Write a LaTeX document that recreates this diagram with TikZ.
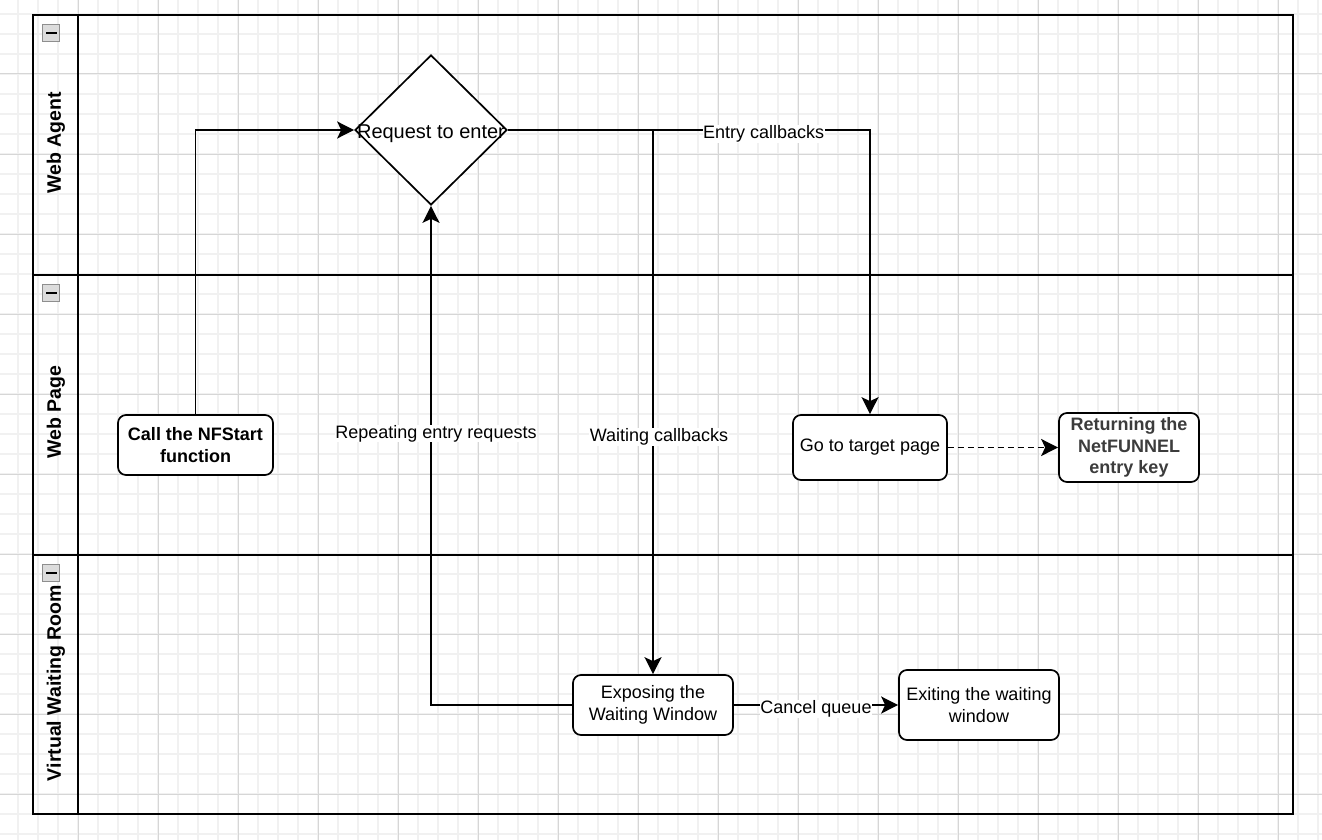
\documentclass[tikz,border=0pt]{standalone}
\usepackage{fontspec}
\setmainfont{Liberation Sans}
\usetikzlibrary{shapes.geometric,arrows.meta}
\definecolor{gminor}{HTML}{F1F1F1}
\definecolor{gmajor}{HTML}{D6D6D6}
\definecolor{txtgray}{HTML}{3C3C3C}
\definecolor{icongray}{HTML}{8E8E8E}
\definecolor{iconfill}{HTML}{DCDCDC}
\tikzset{
  minusicon/.pic={
    \draw[icongray, fill=iconfill, line width=1.5pt] (-8.5,-8.5) rectangle (8.5,8.5);
    \fill[black] (-5.5,-1.3) rectangle (5.5,1.3);
  }
}
\begin{document}
\begin{tikzpicture}[x=1pt,y=-1pt,
  box/.style={draw, line width=1.7pt, rounded corners=8pt, fill=white, align=center,
    inner sep=0pt, font=\fontsize{18}{22}\selectfont},
  decision/.style={draw, shape=diamond, line width=1.7pt, fill=white, inner sep=0pt,
    minimum width=152pt, minimum height=150pt},
  flow/.style={line width=1.7pt, -{Stealth[length=17pt,width=17pt,inset=4pt]}},
  elabel/.style={fill=white, inner sep=0.5pt, font=\fontsize{18}{22}\selectfont},
  lanetitle/.style={rotate=90, font=\bfseries\fontsize{19.5}{23}\selectfont},
  poolline/.style={line width=1.7pt},
]
\useasboundingbox (0,0) rectangle (1322,840);
\fill[white] (0,0) rectangle (1322,840);
% grid
\foreach \x in {18,38,...,1318} \draw[gminor, line width=1.5pt] (\x,0) -- (\x,840);
\foreach \y in {14,34,...,834} \draw[gminor, line width=1.5pt] (0,\y) -- (1322,\y);
\foreach \x in {78,158,...,1278} \draw[gmajor, line width=1pt] (\x,0) -- (\x,840);
\foreach \y in {74,154,...,794} \draw[gmajor, line width=1pt] (0,\y) -- (1322,\y);

% pool and lanes
\draw[poolline] (33,15) rectangle (1293,814);
\draw[poolline] (78,15) -- (78,814);
\draw[poolline] (33,275) -- (1293,275);
\draw[poolline] (33,555) -- (1293,555);
\pic at (51,33) {minusicon};
\pic at (51,293) {minusicon};
\pic at (51,573) {minusicon};
\node[lanetitle] (lane1) at (56,143) {Web Agent};
\node[lanetitle] (lane2) at (56,412) {Web Page};
\node[lanetitle] (lane3) at (56,683) {Virtual Waiting Room};

% nodes
\node[decision] (dia) at (431,130) {};
\node[font=\fontsize{20}{24}\selectfont, inner sep=0pt] (diat) at ([yshift=-4pt]dia.center) {Request to enter};
\node[box, minimum width=155pt, minimum height=60pt, font=\bfseries\fontsize{18}{22}\selectfont] (call) at (195.5,445) {Call the NFStart\\function};
\node[box, minimum width=154pt, minimum height=65pt] (go) at (870,447.5) {Go to target page};
\node[box, minimum width=140pt, minimum height=69pt, text=txtgray, font=\bfseries\fontsize{18}{21.5}\selectfont] (ret) at (1129,447.5) {Returning the\\NetFUNNEL\\entry key};
\node[box, minimum width=160pt, minimum height=60pt] (exp) at (653,705) {Exposing the\\Waiting Window};
\node[box, minimum width=160pt, minimum height=70pt] (exit) at (979,705) {Exiting the waiting\\window};

% connectors
\draw[flow] (call.north) |- (dia.west);
\draw[flow] (dia.east) -| node[elabel, pos=0.353, yshift=-4pt] (lentry) {Entry callbacks} (go.north);
\draw[flow] (dia.east) -| node[elabel, pos=0.782, xshift=6pt] (lwait) {Waiting callbacks} (exp.north);
\draw[flow] (exp.west) -| node[elabel, pos=0.772, xshift=5pt] (lrep) {Repeating entry requests} (dia.south);
\draw[flow, dash pattern=on 6pt off 4pt] (go.east) -- (ret.west);
\draw[flow] (exp.east) -- node[elabel, yshift=-4pt] (lcancel) {Cancel queue} (exit.west);
\end{tikzpicture}
\end{document}
